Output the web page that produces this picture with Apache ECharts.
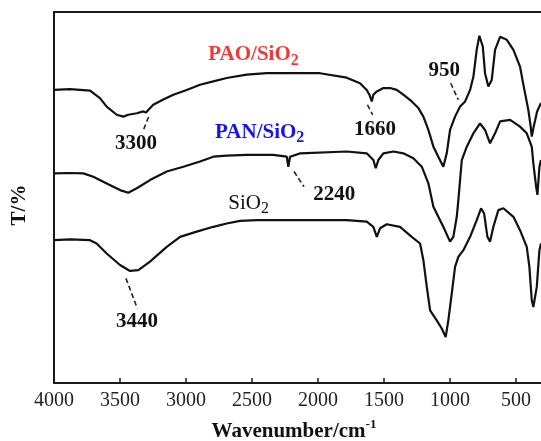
<!DOCTYPE html>
<html>
<head>
<meta charset="utf-8">
<script src="https://cdn.jsdelivr.net/npm/echarts@6/dist/echarts.min.js"></script>
<style>html,body{margin:0;padding:0;background:#fff}#c{width:541px;height:441px}</style>
</head>
<body>
<div id="c"></div>
<script>
// ---- Data (wavenumber cm^-1, transmittance, offset curves) ----
const tickValues = [4000, 3500, 3000, 2500, 2000, 1500, 1000, 500];

const paoWave = [4000,3879,3727,3652,3601,3525,3475,3437,3373,3323,3303,3286,3248,3172,3096,2995,2894,2793,2692,2540,2389,2212,1985,1783,1682,1631,1611,1593,1581,1555,1505,1454,1404,1354,1290,1240,1202,1164,1126,1089,1051,1025,1000,962,924,886,848,823,798,778,752,735,710,684,659,621,570,520,470,447,407,389,381,364,341,311];
const paoT    = [79.0,79.2,78.8,76.8,74.5,72.3,71.8,72.3,72.7,73.2,72.9,73.6,75.0,76.4,77.7,79.0,80.4,81.3,82.2,83.1,83.5,83.5,83.5,82.3,80.8,79.0,77.7,75.9,77.7,78.6,79.5,79.5,79.0,77.7,75.9,74.1,71.8,68.2,63.7,61.0,58.3,61.9,68.2,71.8,74.5,75.9,79.0,82.6,89.8,93.6,90.7,83.5,79.9,81.7,89.8,93.3,92.5,89.8,85.3,80.9,73.6,69.1,66.4,69.5,73.1,75.5];

const panWave = [4000,3879,3778,3702,3601,3500,3437,3373,3273,3146,3020,2894,2793,2692,2540,2339,2237,2225,2212,2136,1783,1631,1581,1563,1543,1505,1429,1354,1278,1214,1164,1126,1101,1051,1000,975,949,937,911,873,823,773,735,697,659,621,545,470,419,381,369,348,338,323,311];
const panT    = [56.5,56.6,56.5,55.6,53.8,52.0,51.3,52.5,54.7,57.0,58.3,59.7,61.0,61.3,61.5,61.5,61.0,58.3,61.0,61.9,62.4,61.9,60.1,57.9,60.1,61.9,62.4,61.9,60.6,58.3,53.8,47.5,45.7,42.1,38.1,39.4,44.8,49.3,60.1,63.7,67.3,70.0,68.2,64.6,67.3,70.5,70.9,69.1,67.3,63.7,59.2,52.9,50.7,58.3,60.1];

const sioWave = [4000,3879,3727,3677,3601,3500,3424,3361,3273,3146,3045,2919,2793,2692,2591,2464,2212,1783,1631,1581,1555,1530,1480,1379,1290,1227,1202,1176,1151,1101,1063,1033,1013,987,962,937,899,848,798,765,742,717,697,672,634,596,520,470,419,399,381,369,343,323,311];
const sioT    = [38.5,38.7,38.5,37.6,34.9,31.8,30.2,30.4,32.7,36.7,39.4,40.8,42.1,43.0,43.7,43.9,43.9,43.9,43.5,42.1,39.4,41.7,42.8,42.1,39.4,37.6,33.1,25.9,19.6,16.9,14.7,12.4,16.9,24.1,31.3,34.0,35.8,39.4,43.9,47.1,45.7,39.4,38.1,42.1,46.6,47.1,44.8,41.2,36.7,31.3,22.3,20.5,25.9,35.8,37.6];

// curve labels: [text, subscript, wavenumber(left edge), T(baseline)]
const curveLabels = [
  ['PAO/SiO', '2', 2831, 86.5],
  ['PAN/SiO', '2', 2780, 65.7],
  ['SiO', '2', 2680, 46.6]
];
// peak annotations: [text, wavenumber(left edge), T(baseline)]
const peakLabels = [
  ['3300', 3538, 62.6],
  ['1660', 1727, 66.3],
  ['950', 1164, 82.2],
  ['2240', 2036, 48.9],
  ['3440', 3530, 14.7]
];
// leader strokes: [w1, T1, w2, T2]
const leaders = [
  [3284, 71.7, 3326, 67.9],
  [1626, 75.0, 1586, 72.3],
  [995, 80.8, 937, 76.3],
  [2182, 57.0, 2106, 52.9],
  [3455, 28.2, 3369, 20.1]
];

const zip = (a, b) => a.map((v, i) => [v, b[i]]);
const chart = echarts.init(document.getElementById('c'));
const AX = '#1a1a1a';
const FONT = '"Liberation Serif", "Times New Roman", serif';

const lineSeries = (name, w, t) => ({
  name, type: 'line', data: zip(w, t), symbol: 'none', smooth: false,
  lineStyle: { color: '#111', width: 2.2 }, silent: true, animation: false
});

chart.setOption({
  animation: false,
  grid: { left: 54, right: 0, top: 12, bottom: 58 },
  xAxis: [{
    type: 'value', min: 311, max: 4000, inverse: true, position: 'bottom',
    axisLine: { show: true, lineStyle: { color: AX, width: 2 } },
    axisTick: { show: true, inside: true, length: 5, lineStyle: { color: AX, width: 1.5 }, customValues: tickValues },
    axisLabel: { customValues: tickValues, formatter: v => String(v), color: '#222', fontFamily: FONT, fontSize: 20, margin: 8 },
    splitLine: { show: false }
  }, {
    type: 'value', min: 311, max: 4000, inverse: true, position: 'top',
    axisLine: { show: true, lineStyle: { color: AX, width: 2 } },
    axisTick: { show: false }, axisLabel: { show: false }, splitLine: { show: false }
  }],
  yAxis: {
    type: 'value', min: 0, max: 100,
    axisLine: { show: true, lineStyle: { color: AX, width: 2 } },
    axisTick: { show: false }, axisLabel: { show: false }, splitLine: { show: false }
  },
  series: [
    lineSeries('PAO/SiO2', paoWave, paoT),
    lineSeries('PAN/SiO2', panWave, panT),
    lineSeries('SiO2', sioWave, sioT)
  ]
});

function drawAnnotations() {
  const px = (w, t) => chart.convertToPixel({ gridIndex: 0 }, [w, t]);
  const colors = ['#ef3a3a', '#1414ee', '#111'];
  const weights = ['bold', 'bold', 'normal'];
  const els = [];
  curveLabels.forEach((l, i) => {
    const p = px(l[2], l[3]);
    els.push({
      type: 'text', x: p[0], y: p[1] - 21.1,
      style: {
        text: '{m|' + l[0] + '}{s|' + l[1] + '}',
        align: 'left', verticalAlign: 'top',
        rich: {
          m: { fontFamily: FONT, fontSize: 21, fontWeight: weights[i], fill: colors[i], lineHeight: 28 },
          s: { fontFamily: FONT, fontSize: 16, fontWeight: weights[i], fill: colors[i], lineHeight: 9, verticalAlign: 'bottom' }
        }
      }
    });
  });
  peakLabels.forEach(l => {
    const p = px(l[1], l[2]);
    els.push({
      type: 'text', x: p[0], y: p[1] - 21.1,
      style: {
        text: '{m|' + l[0] + '}', align: 'left', verticalAlign: 'top',
        rich: { m: { fontFamily: FONT, fontSize: 21, fontWeight: 'bold', fill: '#111', lineHeight: 28 } }
      }
    });
  });
  leaders.forEach(l => {
    const a = px(l[0], l[1]), b = px(l[2], l[3]);
    els.push({
      type: 'line', shape: { x1: a[0], y1: a[1], x2: b[0], y2: b[1] },
      style: { stroke: '#222', lineWidth: 1.6, lineDash: [5, 3] }
    });
  });
  // axis titles
  els.push({
    type: 'text', x: 294, y: 418,
    style: {
      text: '{m|Wavenumber/cm}{s|-1}', align: 'center', verticalAlign: 'top',
      rich: {
        m: { fontFamily: FONT, fontSize: 21, fontWeight: 'bold', fill: '#111', lineHeight: 28 },
        s: { fontFamily: FONT, fontSize: 13, fontWeight: 'bold', fill: '#111', lineHeight: 15, verticalAlign: 'top' }
      }
    }
  });
  els.push({
    type: 'text', x: 19.4, y: 205, rotation: Math.PI / 2,
    style: { text: 'T/%', align: 'center', verticalAlign: 'middle', fontFamily: FONT, fontSize: 21, fontWeight: 'bold', fill: '#111' }
  });
  chart.setOption({ graphic: els });
}
drawAnnotations();
</script>
</body>
</html>
